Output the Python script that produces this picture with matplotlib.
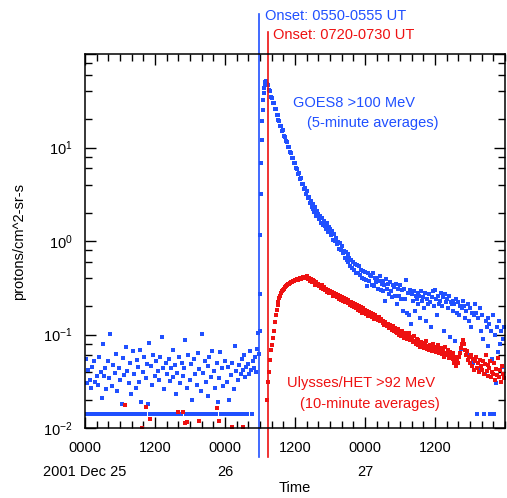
import numpy as np
import matplotlib
matplotlib.use("Agg")
import matplotlib.pyplot as plt
import matplotlib.transforms as mtransforms

plt.rcParams['font.family'] = ['Liberation Sans', 'DejaVu Sans']
plt.rcParams['mathtext.fontset'] = 'custom'
plt.rcParams['mathtext.rm'] = 'Liberation Sans'
plt.rcParams['mathtext.it'] = 'Liberation Sans'

BLUE = '#2050ff'
RED = '#ee1111'

# hours since 2001 Dec 25 0000 UT
# GOES8 >100 MeV, quiet background before onset (10-min steps from 0000)
goes_bg = [
    0.014, 0.055, 0.030, 0.042, 0.014, 0.033,
    0.027, 0.045, 0.014, 0.052, 0.031, 0.014,
    0.036, 0.029, 0.058, 0.014, 0.040, 0.021,
    0.080, 0.014, 0.036, 0.044, 0.026, 0.014,
    0.052, 0.034, 0.102, 0.014, 0.028, 0.047,
    0.014, 0.039, 0.062, 0.025, 0.014, 0.044,
    0.033, 0.014, 0.018, 0.056, 0.037, 0.014,
    0.073, 0.041, 0.014, 0.030, 0.049, 0.023,
    0.014, 0.066, 0.038, 0.014, 0.027, 0.054,
    0.045, 0.014, 0.031, 0.068, 0.019, 0.014,
    0.040, 0.057, 0.014, 0.034, 0.048, 0.018,
    0.082, 0.014, 0.046, 0.029, 0.060, 0.014,
    0.036, 0.052, 0.014, 0.041, 0.033, 0.058,
    0.014, 0.095, 0.044, 0.026, 0.014, 0.049,
    0.038, 0.014, 0.055, 0.032, 0.044, 0.014,
    0.068, 0.035, 0.014, 0.047, 0.023, 0.039,
    0.014, 0.057, 0.030, 0.014, 0.050, 0.036,
    0.044, 0.088, 0.014, 0.027, 0.061, 0.014,
    0.033, 0.048, 0.020, 0.014, 0.055, 0.038,
    0.014, 0.029, 0.064, 0.043, 0.014, 0.025,
    0.102, 0.039, 0.014, 0.052, 0.031, 0.014,
    0.046, 0.022, 0.058, 0.014, 0.035, 0.066,
    0.014, 0.041, 0.027, 0.014, 0.049, 0.019,
    0.034, 0.065, 0.014, 0.044, 0.028, 0.014,
    0.052, 0.014, 0.031, 0.045, 0.020, 0.014,
    0.037, 0.050, 0.014, 0.026, 0.075, 0.041,
    0.014, 0.033, 0.047, 0.014, 0.038, 0.055,
    0.042, 0.014, 0.060, 0.035, 0.045, 0.014,
    0.048, 0.038, 0.066, 0.042, 0.014, 0.052,
    0.044, 0.058, 0.040, 0.070, 0.105, 0.062,
]

# GOES8 rise (5-min samples)
goes_rise_t = [29.92, 30.0, 30.08, 30.17, 30.25, 30.33, 30.42, 30.5,
               30.58, 30.67, 30.75, 30.83, 30.92]
goes_rise = [0.11, 0.27, 1.17, 3.2, 6.9, 12, 19, 25, 32, 38, 43, 47, 50]

# GOES8 decay (10-min steps from Dec 26 0700)
goes_decay = [
    52, 48, 47, 41, 40, 35,
    34, 30, 30, 26, 26, 22,
    22.5, 19.5, 19, 17, 17, 15,
    15.2, 13.4, 13, 11.8, 11.4, 10.2,
    10.1, 8.9, 8.7, 7.8, 7.7, 6.9,
    6.8, 6.0, 5.9, 5.2, 5.3, 4.6,
    4.7, 4.1, 4.1, 3.6, 3.7, 3.2,
    3.4, 2.9, 2.95, 2.55, 2.7, 2.3,
    2.5, 2.2, 2.05, 2.3, 1.85, 2.1,
    1.95, 1.7, 1.85, 1.55, 1.75, 1.5,
    1.62, 1.45, 1.35, 1.55, 1.25, 1.42,
    1.35, 1.15, 1.28, 1.02, 1.18, 1.0,
    1.08, 0.92, 0.97, 0.82, 0.95, 0.80,
    0.88, 0.74, 0.78, 0.66, 0.76, 0.62,
    0.72, 0.60, 0.66, 0.54, 0.63, 0.52,
    0.60, 0.49, 0.57, 0.46, 0.55, 0.45,
    0.54, 0.43, 0.49, 0.40, 0.48, 0.39,
    0.47, 0.38, 0.33, 0.45, 0.37, 0.43,
    0.42, 0.34, 0.45, 0.33, 0.40, 0.36,
    0.40, 0.31, 0.37, 0.42, 0.30, 0.35,
    0.37, 0.29, 0.34, 0.23, 0.39, 0.31,
    0.35, 0.27, 0.36, 0.29, 0.25, 0.34,
    0.32, 0.26, 0.35, 0.21, 0.31, 0.26,
    0.34, 0.24, 0.30, 0.18, 0.31, 0.24,
    0.38, 0.17, 0.28, 0.16, 0.30, 0.13,
    0.27, 0.23, 0.29, 0.18, 0.26, 0.24,
    0.28, 0.21, 0.26, 0.15, 0.29, 0.23,
    0.25, 0.19, 0.28, 0.14, 0.24, 0.21,
    0.27, 0.22, 0.12, 0.25, 0.29, 0.20,
    0.30, 0.24, 0.16, 0.26, 0.21, 0.23,
    0.28, 0.20, 0.25, 0.11, 0.27, 0.22,
    0.24, 0.19, 0.26, 0.095, 0.22, 0.21,
    0.23, 0.18, 0.21, 0.085, 0.24, 0.17,
    0.22, 0.16, 0.20, 0.070, 0.19, 0.23,
    0.20, 0.15, 0.18, 0.060, 0.21, 0.14,
    0.19, 0.12, 0.17, 0.050, 0.16, 0.21,
    0.17, 0.014, 0.15, 0.042, 0.19, 0.11,
    0.16, 0.09, 0.014, 0.038, 0.14, 0.12,
    0.15, 0.075, 0.13, 0.014, 0.11, 0.055,
    0.16, 0.014, 0.10, 0.030, 0.12, 0.065,
    0.14, 0.08, 0.11, 0.045, 0.09, 0.12,
]

# Ulysses/HET >92 MeV, sparse nonzero points before onset
het_bg_t = [6.9, 9.8, 10.4, 11.1, 15.9, 16.8, 17.2, 17.5, 19.6, 22.6, 23.0, 25.2, 27.1]
het_bg = [0.0175, 0.0101, 0.0168, 0.0125, 0.0148, 0.015, 0.0113, 0.0116,
          0.012, 0.0165, 0.012, 0.0102, 0.0102]

# Ulysses/HET event (10-min steps from Dec 26 0710)
het_event = [
    0.020, 0.031, 0.040, 0.053, 0.068,
    0.078, 0.092, 0.11, 0.135, 0.16, 0.185,
    0.205, 0.225, 0.245, 0.26, 0.275, 0.29,
    0.30, 0.31, 0.32, 0.33, 0.335, 0.345,
    0.35, 0.355, 0.36, 0.365, 0.37, 0.375,
    0.38, 0.385, 0.39, 0.38, 0.395, 0.40,
    0.39, 0.405, 0.41, 0.40, 0.415, 0.405,
    0.42, 0.39, 0.40, 0.37, 0.39, 0.36,
    0.38, 0.36, 0.37, 0.34, 0.36, 0.345,
    0.35, 0.33, 0.34, 0.315, 0.335, 0.31,
    0.32, 0.30, 0.31, 0.285, 0.30, 0.28,
    0.295, 0.275, 0.285, 0.26, 0.28, 0.26,
    0.27, 0.25, 0.265, 0.24, 0.255, 0.235,
    0.25, 0.23, 0.245, 0.22, 0.24, 0.22,
    0.235, 0.215, 0.225, 0.205, 0.22, 0.20,
    0.215, 0.195, 0.21, 0.19, 0.205, 0.185,
    0.20, 0.18, 0.195, 0.17, 0.19, 0.175,
    0.185, 0.165, 0.18, 0.158, 0.175, 0.16,
    0.17, 0.152, 0.165, 0.145, 0.16, 0.148,
    0.150, 0.142, 0.155, 0.138, 0.146, 0.140,
    0.132, 0.140, 0.126, 0.137, 0.128, 0.124,
    0.130, 0.118, 0.126, 0.121, 0.112, 0.124,
    0.110, 0.118, 0.106, 0.104, 0.114, 0.100,
    0.106, 0.096, 0.108, 0.099, 0.092, 0.103,
    0.100, 0.090, 0.097, 0.104, 0.088, 0.094,
    0.092, 0.084, 0.096, 0.086, 0.080, 0.089,
    0.078, 0.088, 0.082, 0.074, 0.084, 0.079,
    0.081, 0.072, 0.077, 0.085, 0.070, 0.075,
    0.068, 0.078, 0.073, 0.066, 0.080, 0.071,
    0.074, 0.065, 0.070, 0.078, 0.063, 0.068,
    0.071, 0.062, 0.067, 0.058, 0.073, 0.064,
    0.060, 0.068, 0.056, 0.065, 0.059, 0.062,
    0.055, 0.063, 0.050, 0.058, 0.046, 0.053,
    0.049, 0.057, 0.063, 0.071, 0.080, 0.088,
    0.079, 0.068, 0.060, 0.066, 0.053, 0.058,
    0.050, 0.060, 0.046, 0.055, 0.042, 0.052,
    0.057, 0.044, 0.050, 0.040, 0.054, 0.046,
    0.042, 0.052, 0.038, 0.048, 0.060, 0.041,
    0.047, 0.036, 0.044, 0.052, 0.035, 0.040,
    0.038, 0.049, 0.033, 0.043, 0.037, 0.056,
    0.035, 0.042, 0.031, 0.046, 0.038, 0.034,
]

goes_onset = 29.83   # Dec 26 0550
het_onset = 31.33    # Dec 26 0720

xticks = [0, 12, 24, 36, 48, 60]
xtick_labels = ['0000', '1200', '0000', '1200', '0000', '1200']
day_ticks = [0, 24, 48]
day_labels = ['2001 Dec 25', '26', '27']

step = 10 / 60.0
goes_bg_t = np.arange(len(goes_bg)) * step
goes_decay_t = 31.0 + np.arange(len(goes_decay)) * step
het_event_t = 31.17 + np.arange(len(het_event)) * step

fig = plt.figure(figsize=(5.07, 4.98), dpi=100)
W, H = 507.0, 498.0
ax = fig.add_axes([85 / W, 1 - 428 / H, 420 / W, 374 / H])

ms = 2.4
for tt, vv, c in [(goes_bg_t, goes_bg, BLUE), (goes_rise_t, goes_rise, BLUE),
                  (goes_decay_t, goes_decay, BLUE), (het_bg_t, het_bg, RED),
                  (het_event_t, het_event, RED)]:
    ax.plot(tt, vv, 's', color=c, ms=ms, mew=0, linestyle='none')

ax.set_yscale('log')
ax.set_ylim(1e-2, 1e2)
ax.set_xlim(0, 72)

ax.set_yticks([1e-2, 1e-1, 1e0, 1e1, 1e2])
ax.set_yticklabels([r'$10^{-2}$', r'$10^{-1}$', r'$10^{0}$', r'$10^{1}$', ''])
ax.yaxis.set_minor_locator(matplotlib.ticker.LogLocator(base=10, subs=[2, 4, 6, 8]))
ax.yaxis.set_minor_formatter(matplotlib.ticker.NullFormatter())

ax.set_xticks(xticks)
ax.set_xticklabels(xtick_labels)
ax.set_xticks(np.arange(0, 73, 2), minor=True)

ax.tick_params(which='both', direction='in', top=True, right=True,
               colors='black', labelsize=10.5, width=1)
ax.tick_params(which='major', length=8, pad=9)
ax.tick_params(which='minor', length=5)
for s in ax.spines.values():
    s.set_linewidth(1.1)

trans = mtransforms.blended_transform_factory(ax.transData, ax.transAxes)
for x, lab in zip(day_ticks, day_labels):
    ax.text(x, -0.118, lab, transform=trans, ha='center', va='center', fontsize=10.5)

ax.set_xlabel('Time', fontsize=10.5, labelpad=19)
ax.set_ylabel('protons/cm^2-sr-s', fontsize=10.5, labelpad=12)

# onset markers extend beyond the frame
ax.plot([goes_onset, goes_onset], [-0.078, 1.107], color=BLUE, lw=1.2,
        transform=trans, clip_on=False)
ax.plot([het_onset, het_onset], [-0.078, 1.06], color=RED, lw=1.2,
        transform=trans, clip_on=False)

fig.text(265 / W, 1 - 16 / H, 'Onset: 0550-0555 UT', color=BLUE,
         fontsize=10.5, va='center', ha='left')
fig.text(273 / W, 1 - 35 / H, 'Onset: 0720-0730 UT', color=RED,
         fontsize=10.5, va='center', ha='left')
fig.text(293 / W, 1 - 103 / H, 'GOES8 >100 MeV', color=BLUE,
         fontsize=10.5, va='center', ha='left')
fig.text(307 / W, 1 - 123 / H, '(5-minute averages)', color=BLUE,
         fontsize=10.5, va='center', ha='left')
fig.text(287 / W, 1 - 383 / H, 'Ulysses/HET >92 MeV', color=RED,
         fontsize=10.5, va='center', ha='left')
fig.text(300 / W, 1 - 404 / H, '(10-minute averages)', color=RED,
         fontsize=10.5, va='center', ha='left')

fig.savefig('out.png', dpi=100, facecolor='white')
